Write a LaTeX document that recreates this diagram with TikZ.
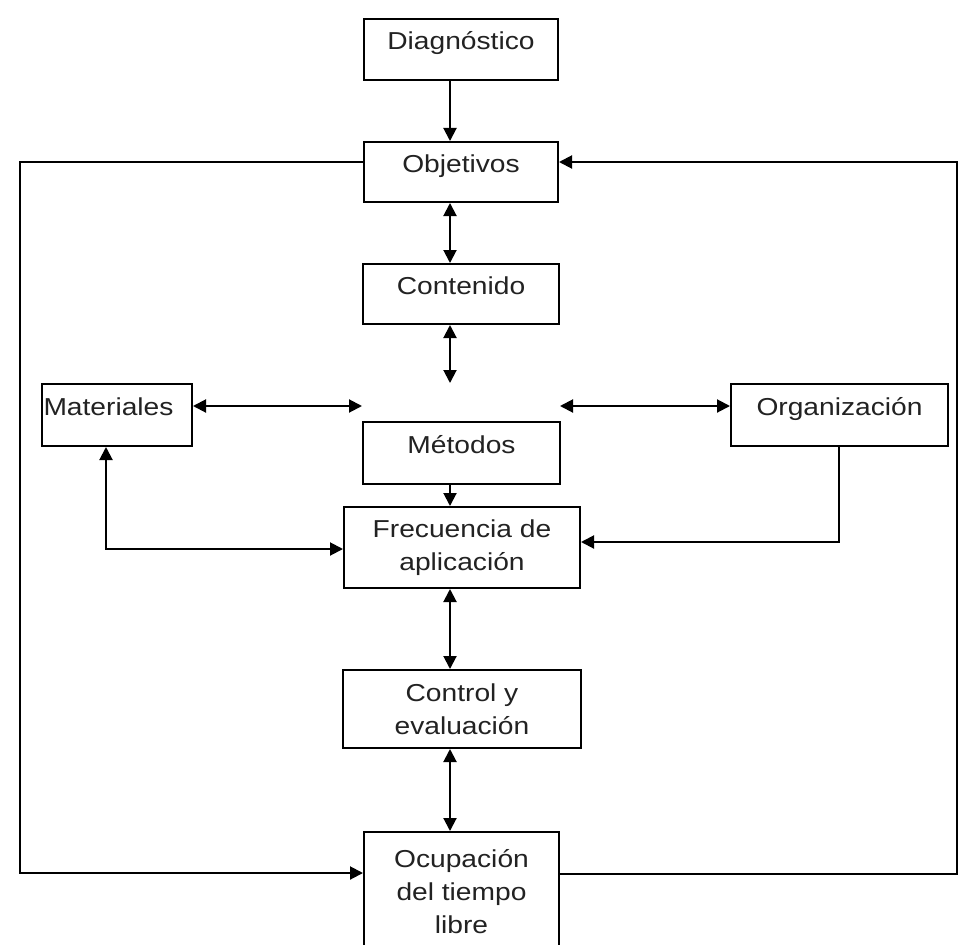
\documentclass[tikz,border=0pt]{standalone}
\usepackage{fontspec}
\setmainfont{Liberation Sans}[FakeStretch=1.15]
\usetikzlibrary{arrows.meta}
\definecolor{ink}{HTML}{222222}
\tikzset{
  box/.style={draw=black, line width=2pt, inner sep=0pt, text=ink,
    font=\fontsize{24.5}{33}\selectfont},
  one/.style={text height=17pt, text depth=16pt},
  two/.style={align=center},
  conn/.style={line width=2pt, draw=black},
  tip/.tip={Triangle[length=13pt,width=13pt]}
}
\begin{document}
\begin{tikzpicture}[x=1pt,y=-1pt]
\useasboundingbox (0,0) rectangle (960,944);
\fill[white] (0,0) rectangle (960,944);

\node[box,one,minimum width=194pt,minimum height=61pt] (diag) at (461,49.5) {Diagnóstico};
\node[box,one,minimum width=194pt,minimum height=60pt] (obj) at (461,172) {Objetivos};
\node[box,one,minimum width=196pt,minimum height=60pt] (cont) at (461,294) {Contenido};
\node[box,one,minimum width=150pt,minimum height=62pt,text width=147pt,align=left,inner xsep=1.5pt] (mat) at (117,415) {Materiales};
\node[box,one,minimum width=217pt,minimum height=62pt] (org) at (839.5,415) {Organización};
\node[box,one,minimum width=197pt,minimum height=62pt] (met) at (461.5,453) {Métodos};
\node[box,two,minimum width=236pt,minimum height=81pt] (frec) at (462,547.5) {Frecuencia de\\aplicación};
\node[box,two,minimum width=238pt,minimum height=78pt] (ctrl) at (462,709) {Control y\\evaluación};
\node[box,two,minimum width=195pt,minimum height=120pt] (ocup) at (461.5,892) {Ocupación\\del tiempo\\libre};

\coordinate (ax) at (450,0);
\coordinate (mtop) at (450,383);
\coordinate (ml) at (362,406);
\coordinate (mr) at (560,406);
\coordinate (fl) at (106,549);
\coordinate (fr) at (839,542);
\coordinate (ll) at (20,162);
\coordinate (lb) at (20,873);
\coordinate (rr) at (957,162);
\coordinate (rb) at (957,874);

\draw[conn,-tip] (diag.south -| ax) -- (obj.north -| ax);
\draw[conn,tip-tip] (obj.south -| ax) -- (cont.north -| ax);
\draw[conn,tip-tip] (cont.south -| ax) -- (mtop);
\draw[conn,tip-tip] (mat.east |- ml) -- (ml);
\draw[conn,tip-tip] (mr) -- (org.west |- mr);
\draw[conn,-tip] (met.south -| ax) -- (frec.north -| ax);
\draw[conn,tip-tip] (mat.south -| fl) |- (frec.west |- fl);
\draw[conn,-tip] (org.south -| fr) |- (frec.east |- fr);
\draw[conn,tip-tip] (frec.south -| ax) -- (ctrl.north -| ax);
\draw[conn,tip-tip] (ctrl.south -| ax) -- (ocup.north -| ax);
\draw[conn,-tip] (obj.west |- ll) -- (ll) -- (lb) -- (ocup.west |- lb);
\draw[conn,-tip] (ocup.east |- rb) -- (rb) -- (rr) -- (obj.east |- rr);
\end{tikzpicture}
\end{document}
